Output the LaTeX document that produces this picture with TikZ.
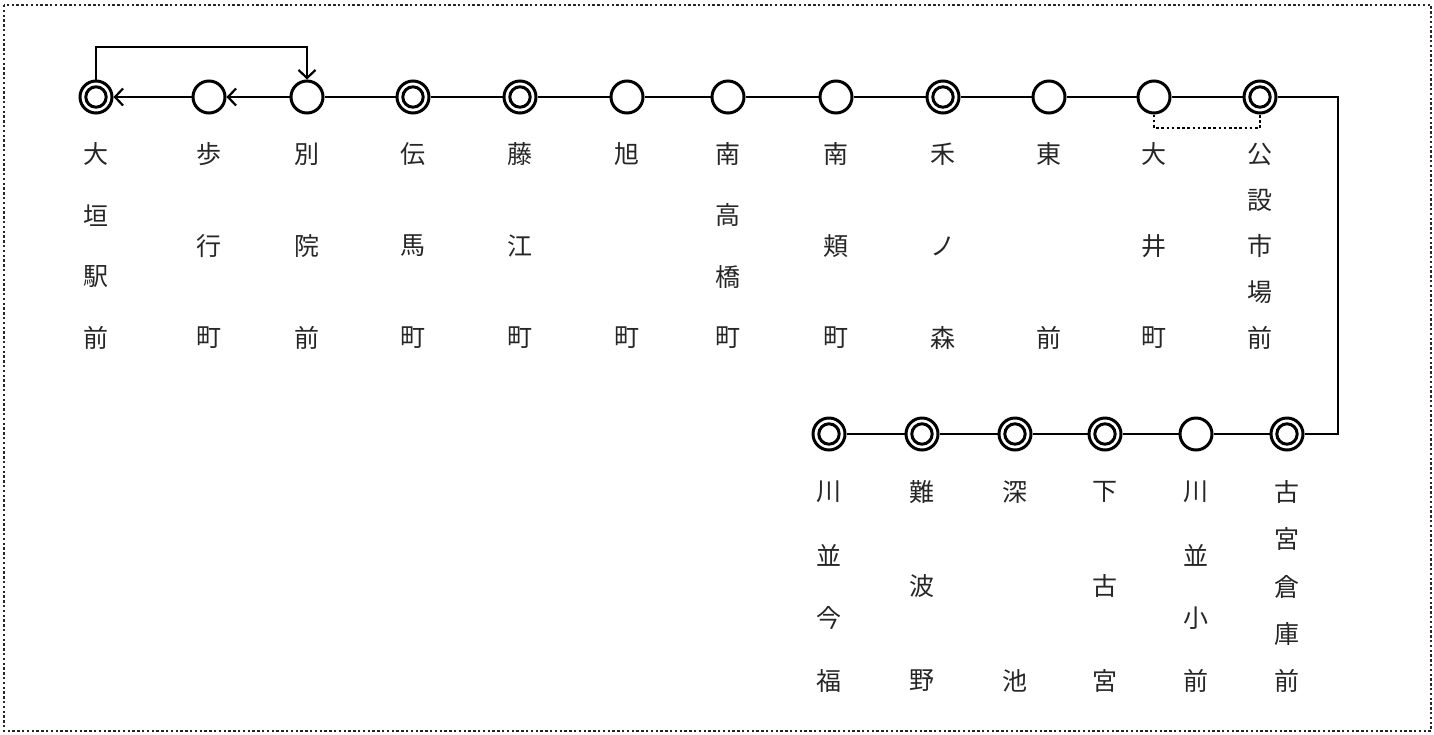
\documentclass[tikz,border=0pt]{standalone}
\usepackage{fontspec}
\newfontfamily\jp{Noto Sans CJK JP}
\usetikzlibrary{arrows.meta}
\tikzset{
  plainst/.style={circle,draw,line width=3pt,minimum size=32pt,inner sep=0pt,fill=white},
  dblst/.style={plainst,path picture={\draw[line width=3pt] (path picture bounding box.center) circle (10.2pt);}},
  lab/.style={font=\jp\fontsize{25}{25}\selectfont,inner sep=0pt,text=black!85},
  conn/.style={line width=2.8pt},
  arr/.style={line width=2.8pt,-{Straight Barb[length=8pt,width=17pt,line width=2.2pt]}},
  dots/.style={line width=2.8pt,dash pattern=on 2.6pt off 2.6pt},
  frame/.style={line width=2.4pt,dash pattern=on 2.4pt off 2.4pt,black!85}
}
\newcommand\vlab[6]{%
  \foreach \ch [count=\i] in {#6} {%
    \pgfmathsetmacro\yy{#3+(\i-1)*(#4-#3)/(#5-1)}%
    \node[lab] (#1-\i) at (#2,\yy) {\ch};
  }}
\begin{document}
\begin{tikzpicture}[x=1pt,y=-1pt]
\useasboundingbox (0,0) rectangle (1434,734);
\draw[frame] (4,5) rectangle (1431,731);
% top row stations
\node[dblst]   (s1)  at (96,97) {};
\node[plainst] (s2)  at (209,97) {};
\node[plainst] (s3)  at (307,97) {};
\node[dblst]   (s4)  at (413,97) {};
\node[dblst]   (s5)  at (520,97) {};
\node[plainst] (s6)  at (627,97) {};
\node[plainst] (s7)  at (728,97) {};
\node[plainst] (s8)  at (836,97) {};
\node[dblst]   (s9)  at (943,97) {};
\node[plainst] (s10) at (1049,97) {};
\node[plainst] (s11) at (1154,97) {};
\node[dblst]   (s12) at (1260,97) {};
% bottom row stations
\node[dblst]   (b1) at (829,434) {};
\node[dblst]   (b2) at (922,434) {};
\node[dblst]   (b3) at (1015,434) {};
\node[dblst]   (b4) at (1105,434) {};
\node[plainst] (b5) at (1196,434) {};
\node[dblst]   (b6) at (1287,434) {};
% connectors top
\draw[arr] (s2) -- (s1);
\draw[arr] (s3) -- (s2);
\draw[conn] (s3) -- (s4);
\draw[conn] (s4) -- (s5);
\draw[conn] (s5) -- (s6);
\draw[conn] (s6) -- (s7);
\draw[conn] (s7) -- (s8);
\draw[conn] (s8) -- (s9);
\draw[conn] (s9) -- (s10);
\draw[conn] (s10) -- (s11);
\draw[conn] (s11) -- (s12);
% loop arrow
\coordinate (looptop) at (0,47);
\draw[arr] (s1.north) -- (s1.north |- looptop) -| (s3.north);
% dotted transfer
\coordinate (dotlvl) at (0,128);
\draw[dots] (s11.south) -- (s11.south |- dotlvl) -| (s12.south);
% right turn
\coordinate (rc) at (1338,434);
\draw[conn] (s12.east) -| (rc) -- (b6.east);
% bottom connectors
\draw[conn] (b6) -- (b5);
\draw[conn] (b5) -- (b4);
\draw[conn] (b4) -- (b3);
\draw[conn] (b3) -- (b2);
\draw[conn] (b2) -- (b1);
% labels top
\vlab{l1}{96}{154}{338}{4}{大,垣,駅,前}
\vlab{l2}{209}{154}{338}{3}{歩,行,町}
\vlab{l3}{307}{154}{338}{3}{別,院,前}
\vlab{l4}{413}{154}{338}{3}{伝,馬,町}
\vlab{l5}{520}{154}{338}{3}{藤,江,町}
\vlab{l6}{627}{154}{338}{2}{旭,町}
\vlab{l7}{728}{154}{338}{4}{南,高,橋,町}
\vlab{l8}{836}{154}{338}{3}{南,頬,町}
\vlab{l9}{943}{154}{338}{3}{禾,ノ,森}
\vlab{l10}{1049}{154}{338}{2}{東,前}
\vlab{l11}{1154}{154}{338}{3}{大,井,町}
\vlab{l12}{1260}{154}{338}{5}{公,設,市,場,前}
% labels bottom
\vlab{m1}{829}{492}{681}{4}{川,並,今,福}
\vlab{m2}{922}{492}{681}{3}{難,波,野}
\vlab{m3}{1015}{492}{681}{2}{深,池}
\vlab{m4}{1105}{492}{681}{3}{下,古,宮}
\vlab{m5}{1196}{492}{681}{4}{川,並,小,前}
\vlab{m6}{1287}{492}{681}{5}{古,宮,倉,庫,前}
\end{tikzpicture}
\end{document}
